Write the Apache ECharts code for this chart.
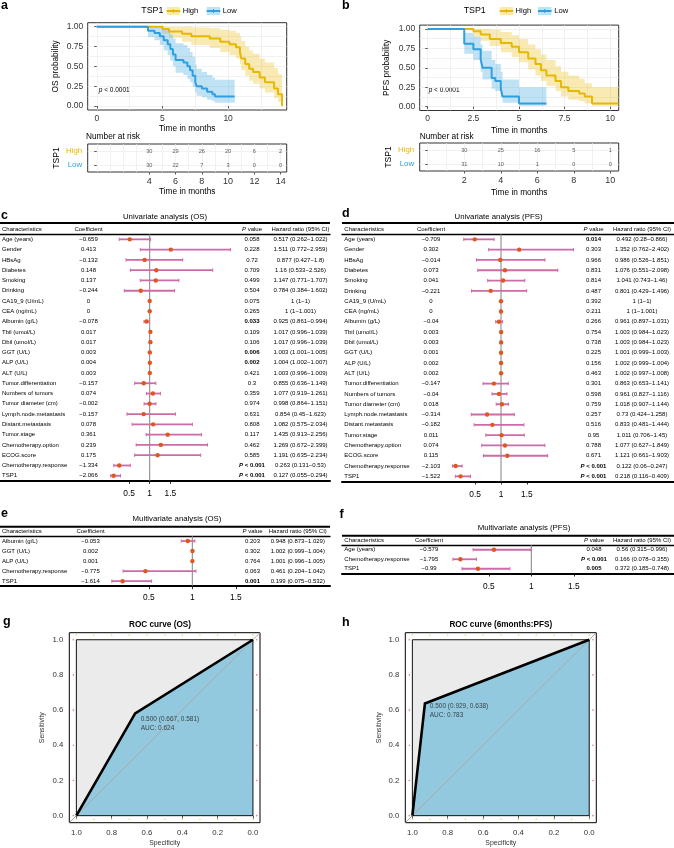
<!DOCTYPE html>
<html><head><meta charset="utf-8">
<script src="https://cdn.jsdelivr.net/npm/echarts@6/dist/echarts.min.js"></script>
<style>html,body{margin:0;padding:0;background:#fff}#c{width:674px;height:848px}</style>
</head><body><div id="c"></div>
<script>
// ======================= DATA =======================
// Panel a: Kaplan-Meier OS (time in months, survival, 95% CI)
const osHighT  = [0, 5.0, 5.5, 6.5, 7.2, 8.6, 9.4, 10.1, 10.6, 10.9, 11.0, 11.3, 11.6, 11.9, 12.4, 12.8, 13.5, 13.8, 14.1];
const osHighS  = [1, 0.97, 0.94, 0.91, 0.88, 0.85, 0.81, 0.78, 0.74, 0.68, 0.60, 0.53, 0.47, 0.43, 0.36, 0.30, 0.22, 0.15, 0];
const osHighLo = [1, 0.91, 0.86, 0.81, 0.77, 0.73, 0.68, 0.64, 0.60, 0.53, 0.45, 0.38, 0.32, 0.28, 0.22, 0.17, 0.10, 0.05, 0];
const osHighHi = [1, 1, 1, 1, 0.99, 0.98, 0.96, 0.95, 0.92, 0.88, 0.82, 0.75, 0.70, 0.66, 0.60, 0.55, 0.48, 0.40, 0];
const osLowT   = [0, 3.9, 4.4, 4.8, 5.1, 5.4, 5.6, 5.8, 6.0, 6.6, 6.9, 7.1, 7.3, 7.5, 7.6, 8.0, 8.4, 8.8, 9.0, 10.5];
const osLowS   = [1, 0.95, 0.92, 0.88, 0.83, 0.78, 0.72, 0.65, 0.58, 0.55, 0.50, 0.45, 0.38, 0.30, 0.25, 0.22, 0.18, 0.15, 0.12, 0.12];
const osLowLo  = [1, 0.87, 0.83, 0.77, 0.70, 0.64, 0.57, 0.50, 0.42, 0.39, 0.34, 0.30, 0.24, 0.17, 0.13, 0.11, 0.08, 0.06, 0.04, 0.04];
const osLowHi  = [1, 1, 1, 1, 0.97, 0.94, 0.90, 0.85, 0.79, 0.77, 0.73, 0.68, 0.62, 0.52, 0.47, 0.43, 0.39, 0.36, 0.33, 0.33];
// Panel b: Kaplan-Meier PFS
const pfsHighT  = [0, 2.5, 2.9, 3.4, 4.0, 4.6, 5.0, 5.5, 5.9, 6.2, 6.5, 7.0, 7.3, 7.7, 8.3, 8.6, 9.0, 10.45];
const pfsHighS  = [1, 0.97, 0.93, 0.87, 0.82, 0.77, 0.70, 0.62, 0.55, 0.47, 0.40, 0.33, 0.25, 0.20, 0.17, 0.13, 0.04, 0.04];
const pfsHighLo = [1, 0.90, 0.85, 0.78, 0.70, 0.64, 0.57, 0.48, 0.40, 0.33, 0.27, 0.20, 0.13, 0.09, 0.07, 0.04, 0.01, 0.01];
const pfsHighHi = [1, 1, 1, 0.99, 0.96, 0.92, 0.87, 0.80, 0.74, 0.67, 0.60, 0.52, 0.45, 0.40, 0.36, 0.30, 0.25, 0.25];
const pfsLowT   = [0, 2.0, 2.5, 2.9, 3.0, 3.5, 3.7, 4.0, 4.1, 5.0, 6.5];
const pfsLowS   = [1, 0.81, 0.74, 0.61, 0.50, 0.37, 0.33, 0.23, 0.13, 0.04, 0.04];
const pfsLowLo  = [1, 0.68, 0.60, 0.45, 0.35, 0.23, 0.20, 0.12, 0.05, 0.01, 0.01];
const pfsLowHi  = [1, 0.95, 0.90, 0.80, 0.72, 0.60, 0.55, 0.45, 0.35, 0.25, 0.25];
// Numbers at risk
const riskOSTimes = [4, 6, 8, 10, 12, 14];
const riskOSHigh  = [30, 29, 26, 20, 6, 2];
const riskOSLow   = [30, 22, 7, 3, 0, 0];
const riskPFSTimes = [2, 4, 6, 8, 10];
const riskPFSHigh  = [30, 25, 16, 5, 1];
const riskPFSLow   = [31, 10, 1, 0, 0];
// Panels c/d: univariate analyses
const uniNames = ['Age (years)', 'Gender', 'HBsAg', 'Diabetes', 'Smoking', 'Drinking', 'CA19_9 (U/mL)', 'CEA (ng/mL)',
  'Albumin (g/L)', 'Tbil (umol/L)', 'Dbil (umol/L)', 'GGT (U/L)', 'ALP (U/L)', 'ALT (U/L)', 'Tumor.differentiation',
  'Numbers of tumors', 'Tumor diameter (cm)', 'Lymph.node.metastasis', 'Distant.metastasis', 'Tumor.stage',
  'Chemotherapy.option', 'ECOG.score', 'Chemotherapy.response', 'TSP1'];
const uniOSCoef = [-0.659, 0.413, -0.132, 0.148, 0.137, -0.244, 0, 0, -0.078, 0.017, 0.017, 0.003, 0.004, 0.003, -0.157, 0.074, -0.002, -0.157, 0.078, 0.361, 0.239, 0.175, -1.334, -2.066];
const uniOSP    = ['0.058', '0.228', '0.72', '0.709', '0.499', '0.504', '0.075', '0.265', '0.033', '0.109', '0.106', '0.006', '0.002', '0.421', '0.3', '0.359', '0.974', '0.631', '0.808', '0.117', '0.462', '0.585', 'P < 0.001', 'P < 0.001'];
const uniOSBold = [0, 0, 0, 0, 0, 0, 0, 0, 1, 0, 0, 1, 1, 0, 0, 0, 0, 0, 0, 0, 0, 0, 1, 1];
const uniOSHR   = [0.517, 1.511, 0.877, 1.16, 1.147, 0.784, 1, 1, 0.925, 1.017, 1.017, 1.003, 1.004, 1.003, 0.855, 1.077, 0.998, 0.854, 1.082, 1.435, 1.269, 1.191, 0.263, 0.127];
const uniOSLo   = [0.262, 0.772, 0.427, 0.533, 0.771, 0.384, 1, 1, 0.861, 0.996, 0.996, 1.001, 1.002, 0.996, 0.636, 0.919, 0.864, 0.45, 0.575, 0.913, 0.672, 0.635, 0.131, 0.055];
const uniOSHi   = [1.022, 2.959, 1.8, 2.526, 1.707, 1.602, 1, 1.001, 0.994, 1.039, 1.039, 1.005, 1.007, 1.009, 1.149, 1.261, 1.151, 1.623, 2.034, 2.256, 2.399, 2.234, 0.53, 0.294];
const uniPFSCoef = [-0.709, 0.302, -0.014, 0.073, 0.041, -0.221, 0, 0, -0.04, 0.003, 0.003, 0.001, 0.002, 0.002, -0.147, -0.04, 0.018, -0.314, -0.182, 0.011, 0.074, 0.115, -2.103, -1.522];
const uniPFSP    = ['0.014', '0.303', '0.966', '0.831', '0.814', '0.487', '0.392', '0.211', '0.266', '0.754', '0.738', '0.225', '0.156', '0.463', '0.301', '0.598', '0.759', '0.257', '0.516', '0.95', '0.788', '0.671', 'P < 0.001', 'P < 0.001'];
const uniPFSBold = [1, 0, 0, 0, 0, 0, 0, 0, 0, 0, 0, 0, 0, 0, 0, 0, 0, 0, 0, 0, 0, 0, 1, 1];
const uniPFSHR   = [0.492, 1.352, 0.986, 1.076, 1.041, 0.801, 1, 1, 0.961, 1.003, 1.003, 1.001, 1.002, 1.002, 0.863, 0.961, 1.018, 0.73, 0.833, 1.011, 1.077, 1.121, 0.122, 0.218];
const uniPFSLo   = [0.28, 0.762, 0.526, 0.551, 0.743, 0.429, 1, 1, 0.897, 0.984, 0.984, 0.999, 0.999, 0.997, 0.653, 0.827, 0.907, 0.424, 0.481, 0.706, 0.627, 0.661, 0.06, 0.116];
const uniPFSHi   = [0.866, 2.402, 1.851, 2.098, 1.46, 1.496, 1, 1.001, 1.031, 1.023, 1.023, 1.003, 1.004, 1.008, 1.141, 1.116, 1.144, 1.258, 1.444, 1.45, 1.849, 1.903, 0.247, 0.409];
// Panel e: multivariate OS
const mvOSNames = ['Albumin (g/L)', 'GGT (U/L)', 'ALP (U/L)', 'Chemotherapy.response', 'TSP1'];
const mvOSCoef  = [-0.053, 0.002, 0.001, -0.775, -1.614];
const mvOSP     = ['0.203', '0.302', '0.764', '0.063', '0.001'];
const mvOSBold  = [0, 0, 0, 0, 1];
const mvOSHR    = [0.948, 1.002, 1.001, 0.461, 0.199];
const mvOSLo    = [0.873, 0.999, 0.996, 0.204, 0.075];
const mvOSHi    = [1.029, 1.004, 1.005, 1.042, 0.532];
// Panel f: multivariate PFS
const mvPFSNames = ['Age (years)', 'Chemotherapy.response', 'TSP1'];
const mvPFSCoef  = [-0.579, -1.795, -0.99];
const mvPFSP     = ['0.048', 'P < 0.001', '0.005'];
const mvPFSBold  = [0, 1, 1];
const mvPFSHR    = [0.56, 0.166, 0.372];
const mvPFSLo    = [0.315, 0.078, 0.185];
const mvPFSHi    = [0.996, 0.355, 0.748];
// Panels g/h: ROC curves (specificity, sensitivity)
const rocOSSpec  = [1, 0.667, 0];
const rocOSSens  = [0, 0.581, 1];
const rocOSThr = 0.5, rocOSAUC = 0.624;
const rocPFSSpec = [1, 0.929, 0];
const rocPFSSens = [0, 0.638, 1];
const rocPFSThr = 0.5, rocPFSAUC = 0.783;
const rocUnitSpec = [1, 1, 0, 0];
const rocUnitSens = [0, 1, 1, 0];
// Tick labels
const kmYTicks = [0, 0.25, 0.5, 0.75, 1];
const osXTicks = [0, 5, 10];
const pfsXTicks = [0, 2.5, 5, 7.5, 10];
const hrTicks = [0.5, 1, 1.5];
const rocTicks = [0, 0.2, 0.4, 0.6, 0.8, 1];
const rocMinorTicks = [0, 0.1, 0.2, 0.3, 0.4, 0.5, 0.6, 0.7, 0.8, 0.9, 1];

// ======================= STYLE / LAYOUT =======================
const FONT = '"Liberation Sans", Arial, Helvetica, sans-serif';
const ORANGE = '#E7B800', BLUE = '#2E9FDF';
const ORANGE_BAND = 'rgba(231,184,0,0.3)', BLUE_BAND = 'rgba(46,159,223,0.3)';
const CI_COL = '#CD6BA8', PT_COL = '#E0561C';
const GRIDLINE = '#EBEBEB';

const grids = [], xAxes = [], yAxes = [], series = [], graphic = [];
function addGrid(g) { grids.push(Object.assign({outerBoundsMode: 'none', containLabel: false}, g)); return grids.length - 1; }
function addX(o) { xAxes.push(o); return xAxes.length - 1; }
function addY(o) { yAxes.push(o); return yAxes.length - 1; }

function lineAxis(gi, min, max, vals, extra) {
  return Object.assign({type: 'value', gridIndex: gi, min, max, silent: true,
    axisLine: {show: false}, axisLabel: {show: false},
    axisTick: {show: false, customValues: vals},
    splitLine: {show: true, lineStyle: {color: GRIDLINE, width: 0.7}}}, extra || {});
}
function mainAxis(gi, min, max, vals, fmt, extra, lab) {
  return Object.assign({type: 'value', gridIndex: gi, min, max,
    axisLine: {show: false}, splitLine: {show: false},
    axisTick: {show: true, length: 2.5, customValues: vals, lineStyle: {color: '#333', width: 0.8}},
    axisLabel: Object.assign({customValues: vals, formatter: fmt, fontSize: 8.5, color: '#333', fontFamily: FONT, margin: 4}, lab || {}),
    nameTextStyle: {fontSize: 8.3, color: '#000', fontFamily: FONT}, nameLocation: 'middle'}, extra || {});
}
const T = (x, y, text, size, st) => ({type: 'text', x, y, silent: true,
  style: Object.assign({text, fontSize: size, fontFamily: FONT, fill: '#000', align: 'left', verticalAlign: 'middle'}, st || {})});
const L = (x1, y1, x2, y2, w, c) => ({type: 'line', silent: true, shape: {x1, y1, x2, y2}, style: {stroke: c || '#000', lineWidth: w}});

function makeBandRender(Tm, lo, hi, color) {
  return function (params, api) {
    const pts = [];
    for (let i = 0; i < Tm.length - 1; i++) pts.push(api.coord([Tm[i], hi[i]]), api.coord([Tm[i + 1], hi[i]]));
    for (let i = Tm.length - 2; i >= 0; i--) pts.push(api.coord([Tm[i + 1], lo[i]]), api.coord([Tm[i], lo[i]]));
    return {type: 'polygon', shape: {points: pts}, style: {fill: color}};
  };
}

// ---------- KM panels ----------
const kmPanels = [
  {grid: {left: 87.7, top: 22.7, width: 199, height: 87.3}, xMin: -0.69, xMax: 14.46, xTicks: osXTicks,
   xLines: [0, 2.5, 5, 7.5, 10, 12.5], yName: 'OS probability', yGap: 27.5, xGap: 14.5,
   hT: osHighT, hS: osHighS, hLo: osHighLo, hHi: osHighHi, lT: osLowT, lS: osLowS, lLo: osLowLo, lHi: osLowHi,
   risk: {grid: {left: 87.7, top: 144, width: 199, height: 28}, times: riskOSTimes, high: riskOSHigh, low: riskOSLow,
     lines: [0,1,2,3,4,5,6,7,8,9,10,11,12,13,14], xGap: 15.5},
   pX: 98.8, pY: 90, letter: ['a', 1, 5.7], nar: [86, 136.5],
   legend: {tsp: 141.3, high: 166.7, highT: 182.7, low: 206.7, lowT: 222.7}},
  {grid: {left: 419.7, top: 25.1, width: 199, height: 85.4}, xMin: -0.44, xMax: 10.46, xTicks: pfsXTicks,
   xLines: [0, 1.25, 2.5, 3.75, 5, 6.25, 7.5, 8.75, 10], yName: 'PFS probability', yGap: 29, xGap: 16.5,
   hT: pfsHighT, hS: pfsHighS, hLo: pfsHighLo, hHi: pfsHighHi, lT: pfsLowT, lS: pfsLowS, lLo: pfsLowLo, lHi: pfsLowHi,
   risk: {grid: {left: 419.7, top: 143, width: 199, height: 28}, times: riskPFSTimes, high: riskPFSHigh, low: riskPFSLow,
     lines: [0,1,2,3,4,5,6,7,8,9,10], xGap: 17.5},
   pX: 428.7, pY: 90, letter: ['b', 342, 5.7], nar: [419.7, 136.5],
   legend: {tsp: 463.7, high: 499.7, highT: 515.5, low: 538, lowT: 554.3}}
];
const yMinorLines = [0, 0.125, 0.25, 0.375, 0.5, 0.625, 0.75, 0.875, 1];
kmPanels.forEach(P => {
  const gi = addGrid(Object.assign({show: true, borderColor: '#333', borderWidth: 1}, P.grid));
  const xm = addX(mainAxis(gi, P.xMin, P.xMax, P.xTicks, v => String(v), {name: 'Time in months', nameGap: P.xGap}));
  addX(lineAxis(gi, P.xMin, P.xMax, P.xLines, {position: 'top'}));
  const ym = addY(mainAxis(gi, -0.05, 1.05, kmYTicks, v => v.toFixed(2), {name: P.yName, nameGap: P.yGap, nameRotate: 90}, {margin: 4.4}));
  addY(lineAxis(gi, -0.05, 1.05, yMinorLines, {position: 'right'}));
  const ax = {xAxisIndex: xm, yAxisIndex: ym};
  series.push(Object.assign({type: 'custom', silent: true, z: 1, data: [[P.hT[0], P.hS[0]]], renderItem: makeBandRender(P.hT, P.hLo, P.hHi, ORANGE_BAND)}, ax));
  series.push(Object.assign({type: 'custom', silent: true, z: 1, data: [[P.lT[0], P.lS[0]]], renderItem: makeBandRender(P.lT, P.lLo, P.lHi, BLUE_BAND)}, ax));
  series.push(Object.assign({type: 'line', name: 'High', step: 'end', symbol: 'none', silent: true, z: 3,
    lineStyle: {color: ORANGE, width: 2}, data: P.hT.map((t, i) => [t, P.hS[i]])}, ax));
  series.push(Object.assign({type: 'line', name: 'Low', step: 'end', symbol: 'none', silent: true, z: 3,
    lineStyle: {color: BLUE, width: 2}, data: P.lT.map((t, i) => [t, P.lS[i]])}, ax));
  // risk table
  const R = P.risk;
  const rg = addGrid(Object.assign({show: true, borderColor: '#333', borderWidth: 1}, R.grid));
  const rx = addX(mainAxis(rg, P.xMin, P.xMax, R.times, v => String(v), {name: 'Time in months', nameGap: R.xGap}, {margin: 5.5, fontSize: 9}));
  addX(lineAxis(rg, P.xMin, P.xMax, R.lines, {position: 'top'}));
  const ry = addY(mainAxis(rg, 0, 4, [1, 3], v => (v === 3 ? '{h|High}' : '{l|Low}'),
    {name: 'TSP1', nameGap: 26.5, nameRotate: 90, nameTextStyle: {fontSize: 8.5, color: '#000', fontFamily: FONT}},
    {margin: 5.5, rich: {h: {color: ORANGE, fontSize: 7.9, fontFamily: FONT}, l: {color: BLUE, fontSize: 7.9, fontFamily: FONT}}}));
  addY(lineAxis(rg, 0, 4, [1, 3], {position: 'right'}));
  const rax = {xAxisIndex: rx, yAxisIndex: ry};
  [[R.high, 3], [R.low, 1]].forEach(([arr, yv]) => {
    series.push(Object.assign({type: 'scatter', symbolSize: 0, silent: true,
      data: R.times.map((t, i) => [t, yv, arr[i]]),
      label: {show: true, position: 'inside', formatter: p => String(p.value[2]), fontSize: 5.6, color: '#333', fontFamily: FONT}}, rax));
  });
  // texts
  graphic.push(T(P.letter[1], P.letter[2], P.letter[0], 12.5, {fontWeight: 'bold'}));
  graphic.push(T(P.nar[0], P.nar[1], 'Number at risk', 8.3));
  graphic.push(T(P.pX, P.pY, '{i|p} < 0.0001', 6.5, {rich: {i: {fontStyle: 'italic', fontSize: 6.5, fontFamily: FONT}}}));
  const Lg = P.legend;
  graphic.push(T(Lg.tsp, 11, 'TSP1', 8.8));
  [[Lg.high, Lg.highT, 'High', ORANGE, ORANGE_BAND], [Lg.low, Lg.lowT, 'Low', BLUE, BLUE_BAND]].forEach(([kx, tx, lab, c, b]) => {
    graphic.push({type: 'rect', silent: true, shape: {x: kx, y: 7, width: 13.5, height: 8}, style: {fill: b}});
    graphic.push(L(kx, 11, kx + 13.5, 11, 2, c));
    graphic.push(L(kx + 6.75, 9, kx + 6.75, 13, 1, c));
    graphic.push(T(tx, 11, lab, 7.6));
  });
});

// ---------- Forest panels ----------
function fmtCoef(c) { return c < 0 ? '\u2212' + String(Math.abs(c)) : String(c); }
const forestPanels = [
  {grid: {left: 0, top: 234.2, width: 330, height: 246.7}, x0: 0, x1: 330, one: 149.7, ppu: 41.3,
   charX: 2, coefX: 88.5, pX: 252, hrX: 300.5, headerY: 229, topRuleY: 223, margin: 8.5,
   title: ['Univariate analysis (OS)', 165, 217], letter: ['c', 1, 215.7],
   names: uniNames, coef: uniOSCoef, p: uniOSP, bold: uniOSBold, hr: uniOSHR, lo: uniOSLo, hi: uniOSHi},
  {grid: {left: 342, top: 234.2, width: 332, height: 247.3}, x0: 342, x1: 674, one: 501, ppu: 51.7,
   charX: 344.3, coefX: 431, pX: 593.5, hrX: 642, headerY: 229, topRuleY: 223, margin: 9,
   title: ['Univariate analysis (PFS)', 498.5, 217], letter: ['d', 342, 213.7],
   names: uniNames, coef: uniPFSCoef, p: uniPFSP, bold: uniPFSBold, hr: uniPFSHR, lo: uniPFSLo, hi: uniPFSHi},
  {grid: {left: 0, top: 536, width: 330, height: 50.2}, x0: 0, x1: 330, one: 192.3, ppu: 87,
   charX: 2, coefX: 90.5, pX: 252.5, hrX: 297.8, headerY: 531.7, topRuleY: 526.7, margin: 7.3,
   title: ['Multivariate analysis (OS)', 177, 519.3], letter: ['e', 1, 514],
   names: mvOSNames, coef: mvOSCoef, p: mvOSP, bold: mvOSBold, hr: mvOSHR, lo: mvOSLo, hi: mvOSHi},
  {grid: {left: 342, top: 545, width: 332, height: 28.5}, x0: 342, x1: 674, one: 531.3, ppu: 85,
   charX: 344.3, coefX: 429, pX: 594, hrX: 642, headerY: 540.3, topRuleY: 535.7, margin: 9,
   title: ['Multivariate analysis (PFS)', 524, 527.5], letter: ['f', 339.5, 514.7],
   names: mvPFSNames, coef: mvPFSCoef, p: mvPFSP, bold: mvPFSBold, hr: mvPFSHR, lo: mvPFSLo, hi: mvPFSHi}
];
function makeForestRender(P) {
  return function (params, api) {
    const i = params.dataIndex;
    const row = api.value(0);
    const c = api.coord([api.value(1), row]);
    const l = api.coord([api.value(2), row]);
    const h = api.coord([api.value(3), row]);
    const r1 = api.coord([1, row]);
    const band = api.size([0, 1])[1];
    const y = c[1];
    const txt = (x, text, align, extra) => ({type: 'text', x, y,
      style: Object.assign({text, fill: '#000', fontSize: 6, fontFamily: FONT, align, verticalAlign: 'middle'}, extra || {})});
    const ps = P.p[i];
    let pText = ps, pStyle = {};
    if (ps.indexOf('<') >= 0) {
      pText = '{it|P} < 0.001';
      pStyle = {fontWeight: 'bold', rich: {it: {fontStyle: 'italic', fontWeight: 'bold', fontSize: 6, fontFamily: FONT}}};
    } else if (P.bold[i]) pStyle = {fontWeight: 'bold'};
    return {type: 'group', children: [
      {type: 'line', shape: {x1: r1[0], y1: y - band / 2, x2: r1[0], y2: y + band / 2}, style: {stroke: '#808080', lineWidth: 1}},
      {type: 'line', shape: {x1: l[0], y1: y, x2: h[0], y2: y}, style: {stroke: CI_COL, lineWidth: 1.8}},
      {type: 'line', shape: {x1: l[0], y1: y - 1.7, x2: l[0], y2: y + 1.7}, style: {stroke: CI_COL, lineWidth: 1}},
      {type: 'line', shape: {x1: h[0], y1: y - 1.7, x2: h[0], y2: y + 1.7}, style: {stroke: CI_COL, lineWidth: 1}},
      {type: 'circle', shape: {cx: c[0], cy: y, r: 2.2}, style: {fill: PT_COL}},
      txt(P.charX, P.names[i], 'left'),
      txt(P.coefX, fmtCoef(P.coef[i]), 'center'),
      txt(P.pX, pText, 'center', pStyle),
      txt(P.hrX, P.hr[i] + ' (' + P.lo[i] + '\u2212' + P.hi[i] + ')', 'center')
    ]};
  };
}
forestPanels.forEach(P => {
  const gi = addGrid(P.grid);
  const min = 1 - (P.one - P.x0) / P.ppu, max = 1 + (P.x1 - P.one) / P.ppu;
  const xb = addX({type: 'value', gridIndex: gi, min, max, position: 'bottom',
    axisLine: {show: true, lineStyle: {color: '#000', width: 2}}, splitLine: {show: false},
    axisTick: {show: true, length: 3, customValues: hrTicks, lineStyle: {color: '#000', width: 0.8}},
    axisLabel: {customValues: hrTicks, formatter: v => String(v), fontSize: 8.4, color: '#000', fontFamily: FONT, margin: P.margin}});
  addX({type: 'value', gridIndex: gi, min, max, position: 'top',
    axisLine: {show: true, lineStyle: {color: '#000', width: 1.3}}, axisTick: {show: false}, axisLabel: {show: false}, splitLine: {show: false}});
  const yc = addY({type: 'category', gridIndex: gi, inverse: true, data: P.names, show: false});
  series.push({type: 'custom', xAxisIndex: xb, yAxisIndex: yc, silent: true, z: 4,
    encode: {x: [1, 2, 3], y: 0},
    data: P.names.map((n, i) => [i, P.hr[i], P.lo[i], P.hi[i]]),
    renderItem: makeForestRender(P)});
  graphic.push(L(P.x0, P.topRuleY, P.x1, P.topRuleY, 2));
  graphic.push(T(P.title[1], P.title[2], P.title[0], 7.8, {align: 'center'}));
  graphic.push(T(P.letter[1], P.letter[2], P.letter[0], 12.5, {fontWeight: 'bold'}));
  graphic.push(T(P.charX, P.headerY, 'Characteristics', 6));
  graphic.push(T(P.coefX, P.headerY, 'Coefficient', 6, {align: 'center'}));
  graphic.push(T(P.pX, P.headerY, '{i|P} value', 6, {align: 'center', rich: {i: {fontStyle: 'italic', fontSize: 6, fontFamily: FONT}}}));
  graphic.push(T(P.hrX, P.headerY, 'Hazard ratio (95% CI)', 6, {align: 'center'}));
});

// ---------- ROC panels ----------
const rocPanels = [
  {grid: {left: 69.3, top: 632.7, width: 190.7, height: 190}, spec: rocOSSpec, sens: rocOSSens, thr: rocOSThr, auc: rocOSAUC,
   title: ['ROC curve (OS)', 160, 624.5], letter: ['g', 3, 621.5], yGap: 23.5, labOff: [6, 2.2]},
  {grid: {left: 405.3, top: 632.7, width: 191, height: 190}, spec: rocPFSSpec, sens: rocPFSSens, thr: rocPFSThr, auc: rocPFSAUC,
   title: ['ROC curve (6months:PFS)', 500.8, 624.5], letter: ['h', 342, 622.5], yGap: 22.5, labOff: [5.3, -0.6]}
];
const RMIN = -0.04, RMAX = 1.04;
function makeRocAreaRender(P) {
  return function (params, api) {
    const sq = rocUnitSpec.map((x, i) => api.coord([x, rocUnitSens[i]]));
    const sx = P.spec.concat([0]), sy = P.sens.concat([0]);
    const under = sx.map((x, i) => api.coord([x, sy[i]]));
    return {type: 'group', children: [
      {type: 'polygon', z2: 1, shape: {points: sq}, style: {fill: '#EBEBEB', stroke: null}},
      {type: 'polygon', z2: 2, shape: {points: under}, style: {fill: '#93C9DF', stroke: null}},
      {type: 'polygon', z2: 3, shape: {points: sq}, style: {fill: null, stroke: '#111', lineWidth: 1}}
    ]};
  };
}
rocPanels.forEach(P => {
  const gi = addGrid(Object.assign({show: true, borderColor: '#000', borderWidth: 1}, P.grid));
  const xa = addX(mainAxis(gi, RMIN, RMAX, rocTicks, v => v.toFixed(1),
    {inverse: true, name: 'Specificity', nameGap: 17, nameTextStyle: {fontSize: 6.9, color: '#333', fontFamily: FONT},
     axisTick: {show: true, length: 3, customValues: rocTicks, lineStyle: {color: '#333', width: 0.8}}},
    {fontSize: 7.8, margin: 6}));
  const ya = addY(mainAxis(gi, RMIN, RMAX, rocTicks, v => v.toFixed(1),
    {name: 'Sensitivity', nameGap: P.yGap, nameRotate: 90, nameTextStyle: {fontSize: 6.9, color: '#333', fontFamily: FONT},
     axisTick: {show: true, length: 3, customValues: rocTicks, lineStyle: {color: '#333', width: 0.8}}},
    {fontSize: 7.8, margin: 6}));
  const ax = {xAxisIndex: xa, yAxisIndex: ya};
  series.push(Object.assign({type: 'custom', silent: true, z: 1, data: [[0.5, 0.5]], renderItem: makeRocAreaRender(P)}, ax));
  series.push(Object.assign({type: 'line', silent: true, z: 4, symbol: 'none',
    lineStyle: {color: '#A8A8A8', width: 1}, data: [[RMAX, 1 - RMAX], [RMIN, 1 - RMIN]]}, ax));
  series.push(Object.assign({type: 'line', silent: true, z: 5, symbol: 'none',
    lineStyle: {color: '#000', width: 2.6, join: 'miter'}, data: P.spec.map((s, i) => [s, P.sens[i]])}, ax));
  series.push(Object.assign({type: 'scatter', silent: true, z: 6, symbolSize: 1, itemStyle: {color: 'rgba(0,0,0,0)'},
    data: [[P.spec[1], P.sens[1]]],
    label: {show: true, position: P.labOff, align: 'left', verticalAlign: 'top', lineHeight: 8.4, fontSize: 6.5, color: '#222', fontFamily: FONT,
      formatter: () => P.thr.toFixed(3) + ' (' + P.spec[1].toFixed(3) + ', ' + P.sens[1].toFixed(3) + ')\nAUC: ' + P.auc.toFixed(3)}}, ax));
  series.push(Object.assign({type: 'scatter', silent: true, z: 6, symbolSize: 1.6, itemStyle: {color: '#C5D84A'},
    data: rocMinorTicks.map(v => [v, 1.027]).concat(rocMinorTicks.map(v => [v, -0.02]))}, ax));
  series.push(Object.assign({type: 'scatter', silent: true, z: 6, symbolSize: 1.6, itemStyle: {color: '#E55A5A'},
    data: rocTicks.map(v => [1.017, v]).concat(rocTicks.map(v => [-0.021, v]))}, ax));
  graphic.push(T(P.title[1], P.title[2], P.title[0], 8.2, {align: 'center', fontWeight: 'bold'}));
  graphic.push(T(P.letter[1], P.letter[2], P.letter[0], 12.5, {fontWeight: 'bold'}));
});

const chart = echarts.init(document.getElementById('c'), null, {renderer: 'canvas'});
chart.setOption({
  animation: false,
  backgroundColor: '#fff',
  textStyle: {fontFamily: FONT},
  grid: grids, xAxis: xAxes, yAxis: yAxes, series: series,
  graphic: {elements: graphic}
});
</script></body></html>
